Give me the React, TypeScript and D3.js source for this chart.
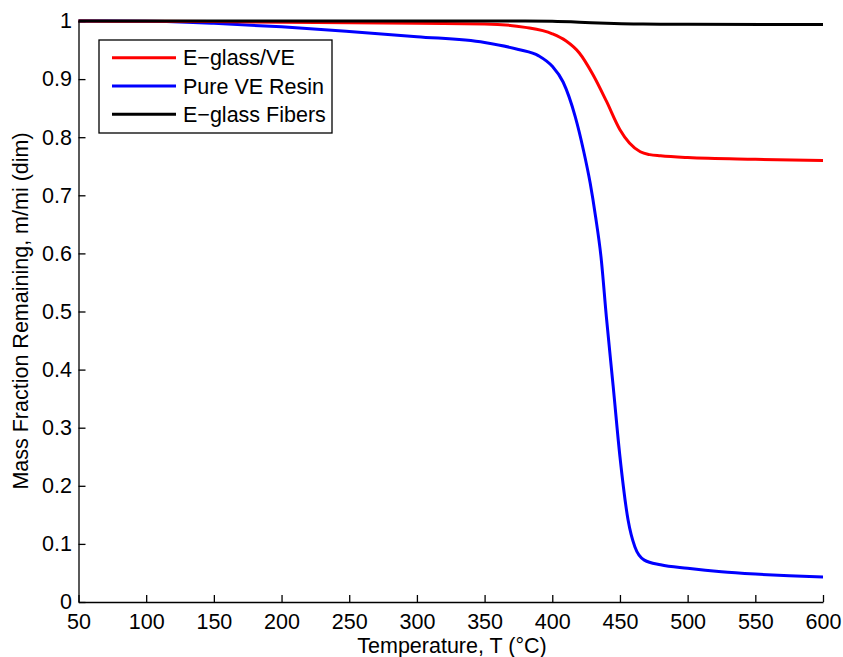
// Mass fraction remaining vs temperature (TGA curves)
import React, { useRef, useEffect } from 'react';
import * as d3 from 'd3';

const SERIES_NAMES = ['E\u2212glass/VE', 'Pure VE Resin', 'E\u2212glass Fibers'];
const SERIES_COLORS = ['#ff0000', '#0000ff', '#000000'];

const tempEglassVE = [50, 100, 150, 200, 250, 300, 350, 380, 400, 410, 420, 430, 440, 450, 457, 465, 472, 480, 500, 550, 600];
const massEglassVE = [1.0, 0.9995, 0.999, 0.998, 0.997, 0.996, 0.995, 0.989, 0.978, 0.966, 0.945, 0.908, 0.862, 0.813, 0.79, 0.775, 0.77, 0.768, 0.765, 0.762, 0.76];

const tempPureVE = [50, 100, 130, 150, 200, 250, 300, 350, 375, 390, 400, 408, 417, 423, 428, 432, 436, 440, 445, 450, 456, 461, 468, 480, 500, 525, 550, 575, 600];
const massPureVE = [1.0, 0.9995, 0.998, 0.996, 0.99, 0.982, 0.973, 0.963, 0.951, 0.94, 0.922, 0.895, 0.835, 0.778, 0.721, 0.663, 0.594, 0.49, 0.371, 0.25, 0.141, 0.095, 0.072, 0.064, 0.058, 0.052, 0.048, 0.045, 0.043];

const tempFibers = [50, 380, 400, 420, 440, 460, 480, 500, 600];
const massFibers = [1.0, 1.0, 0.9995, 0.998, 0.996, 0.9948, 0.9945, 0.9943, 0.994];

const xTicks = [50, 100, 150, 200, 250, 300, 350, 400, 450, 500, 550, 600];
const yTicks = [0, 0.1, 0.2, 0.3, 0.4, 0.5, 0.6, 0.7, 0.8, 0.9, 1];

const W = 843;
const H = 657;
const FONT = '"Liberation Sans", Arial, Helvetica, sans-serif';
const FS = 21.5;

export default function App() {
  const svgRef = useRef<SVGSVGElement | null>(null);

  useEffect(() => {
    if (!svgRef.current) return;
    const svg = d3.select(svgRef.current);
    svg.selectAll('*').remove();

    const x = d3.scaleLinear().domain([50, 600]).range([78.5, 823]);
    const y = d3.scaleLinear().domain([0, 1]).range([602, 21]);

    const series = [
      { t: tempEglassVE, m: massEglassVE },
      { t: tempPureVE, m: massPureVE },
      { t: tempFibers, m: massFibers },
    ];

    const line = d3.line<[number, number]>()
      .x(d => x(d[0]))
      .y(d => y(d[1]))
      .curve(d3.curveMonotoneX);

    // draw fibers last so black sits on top at 1.0
    [1, 0, 2].forEach(i => {
      const pts = series[i].t.map((t, k) => [t, series[i].m[k]] as [number, number]);
      svg.append('path')
        .attr('d', line(pts))
        .attr('fill', 'none')
        .attr('stroke', SERIES_COLORS[i])
        .attr('stroke-width', 3)
        .attr('stroke-linejoin', 'round');
    });

    // X axis
    const gx = svg.append('g')
      .attr('transform', `translate(0, ${y(0)})`)
      .call(d3.axisBottom(x).tickValues(xTicks).tickSizeInner(-7).tickSizeOuter(0).tickPadding(12).tickFormat(d3.format('d')));
    gx.selectAll('text').attr('fill', '#000').style('font-size', `${FS}px`).style('font-family', FONT);
    gx.selectAll('.domain, .tick line').attr('stroke', '#000').attr('stroke-width', 1.3);

    // Y axis
    const gy = svg.append('g')
      .attr('transform', `translate(${x(50)}, 0)`)
      .call(d3.axisLeft(y).tickValues(yTicks).tickSizeInner(-7).tickSizeOuter(0).tickPadding(6.5).tickFormat(d => String(+(d as number).toFixed(1))));
    gy.selectAll('text').attr('fill', '#000').style('font-size', `${FS}px`).style('font-family', FONT);
    gy.selectAll('.domain, .tick line').attr('stroke', '#000').attr('stroke-width', 1.3);

    // Axis labels
    svg.append('text')
      .attr('x', 452)
      .attr('y', 653)
      .attr('text-anchor', 'middle')
      .style('font-size', `${FS}px`)
      .style('font-family', FONT)
      .text('Temperature, T (\u00b0C)');

    svg.append('text')
      .attr('transform', `translate(28, 311) rotate(-90)`)
      .attr('text-anchor', 'middle')
      .style('font-size', `${FS}px`)
      .style('font-family', FONT)
      .text('Mass Fraction Remaining, m/mi (dim)');

    // Legend
    const lg = svg.append('g');
    lg.append('rect')
      .attr('x', 99).attr('y', 40).attr('width', 233).attr('height', 93)
      .attr('fill', '#fff').attr('stroke', '#000').attr('stroke-width', 1.3);
    SERIES_NAMES.forEach((name, i) => {
      const cy = 57.7 + i * 28.3;
      lg.append('line')
        .attr('x1', 112).attr('x2', 176).attr('y1', cy).attr('y2', cy)
        .attr('stroke', SERIES_COLORS[i]).attr('stroke-width', 3);
      lg.append('text')
        .attr('x', 183).attr('y', cy).attr('dy', '0.36em')
        .style('font-size', `${FS}px`)
        .style('font-family', FONT)
        .text(name);
    });
  }, []);

  return (
    <svg
      ref={svgRef}
      width={W}
      height={H}
      style={{ position: 'absolute', left: 0, top: 0, background: '#fff' }}
    />
  );
}
